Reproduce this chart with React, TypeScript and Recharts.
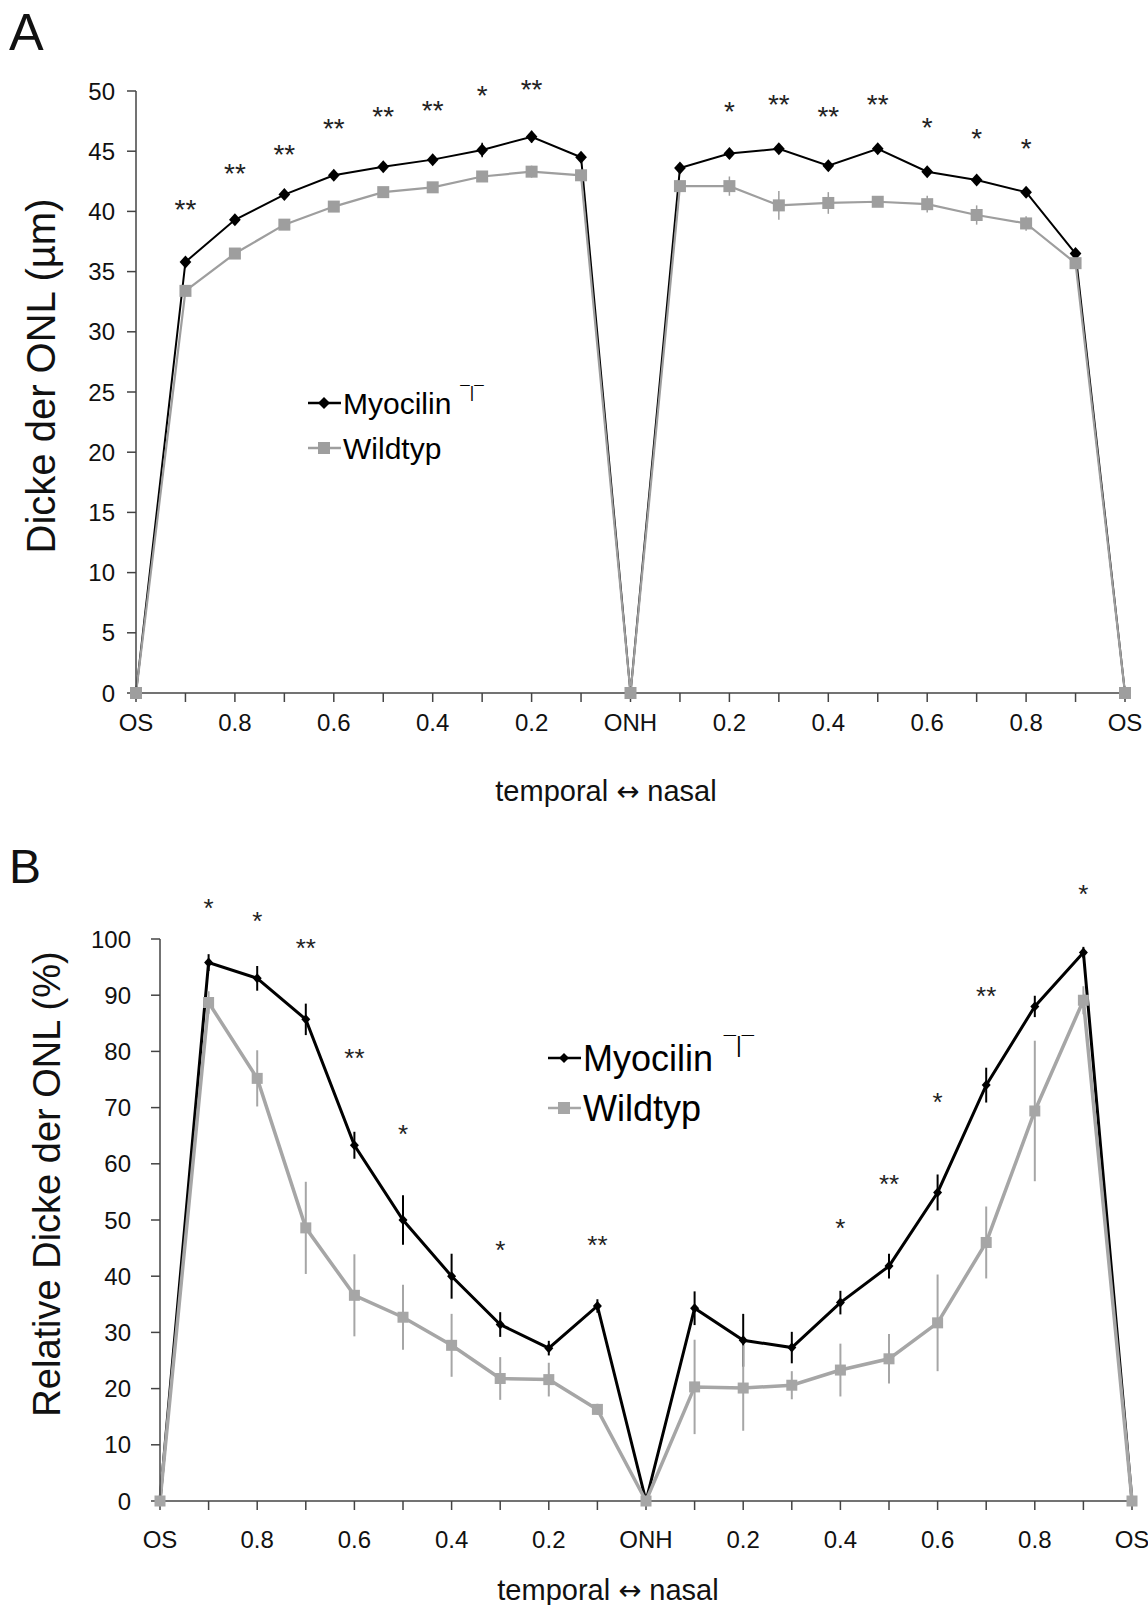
import React from "react";
import { ComposedChart, Line, XAxis, YAxis, ErrorBar, ReferenceDot } from "recharts";

// positions along the retina, temporal OS -> ONH -> nasal OS
const positions = ["OS", "0.9", "0.8", "0.7", "0.6", "0.5", "0.4", "0.3", "0.2", "0.1", "ONH", "0.1", "0.2", "0.3", "0.4", "0.5", "0.6", "0.7", "0.8", "0.9", "OS"];
const tickLabels = ["OS", "", "0.8", "", "0.6", "", "0.4", "", "0.2", "", "ONH", "", "0.2", "", "0.4", "", "0.6", "", "0.8", "", "OS"];

// A: absolute ONL thickness (µm)
const myoA = [0, 35.8, 39.3, 41.4, 43.0, 43.7, 44.3, 45.1, 46.2, 44.5, 0, 43.6, 44.8, 45.2, 43.8, 45.2, 43.3, 42.6, 41.6, 36.5, 0];
const myoAErr = [0, 0.3, 0.4, 0.3, 0.3, 0.3, 0.3, 0.6, 0.5, 0.3, 0, 0.3, 0.4, 0.3, 0.3, 0.4, 0.3, 0.3, 0.3, 0.3, 0];
const wtA = [0, 33.4, 36.5, 38.9, 40.4, 41.6, 42.0, 42.9, 43.3, 43.0, 0, 42.1, 42.1, 40.5, 40.7, 40.8, 40.6, 39.7, 39.0, 35.7, 0];
const wtAErr = [0, 0.3, 0.3, 0.4, 0.3, 0.3, 0.3, 0.3, 0.5, 0.3, 0, 0.3, 0.8, 1.2, 0.9, 0.4, 0.7, 0.8, 0.6, 0.3, 0];
const sigA = ["", "**", "**", "**", "**", "**", "**", "*", "**", "", "", "", "*", "**", "**", "**", "*", "*", "*", "", ""];
const sigAy = [0, 40.7, 43.7, 45.3, 47.4, 48.4, 48.9, 50.2, 50.7, 0, 0, 0, 48.8, 49.4, 48.4, 49.4, 47.5, 46.6, 45.8, 0, 0];

// B: relative ONL thickness (%)
const myoB = [0, 95.8, 93.0, 85.7, 63.3, 50.0, 40.0, 31.4, 27.2, 34.7, 0, 34.3, 28.6, 27.3, 35.3, 41.8, 54.9, 74.0, 88.0, 97.6, 0];
const myoBErr = [0, 1.5, 2.2, 2.8, 2.4, 4.4, 4.0, 2.2, 1.3, 1.2, 0, 3.0, 4.7, 2.8, 2.1, 2.2, 3.2, 3.1, 1.9, 1.0, 0];
const wtB = [0, 88.7, 75.2, 48.6, 36.6, 32.7, 27.7, 21.8, 21.6, 16.3, 0, 20.3, 20.1, 20.6, 23.3, 25.3, 31.7, 46.0, 69.4, 89.1, 0];
const wtBErr = [0, 2.0, 5.0, 8.2, 7.3, 5.8, 5.6, 3.8, 3.0, 1.0, 0, 8.4, 7.6, 2.5, 4.7, 4.4, 8.6, 6.4, 12.5, 2.5, 0];
const sigB = ["", "*", "*", "**", "**", "*", "", "*", "", "**", "", "", "", "", "*", "**", "*", "**", "", "*", ""];
const sigBy = [0, 106.6, 104.3, 99.5, 79.8, 66.4, 0, 45.7, 0, 46.6, 0, 0, 0, 0, 49.7, 57.4, 72.1, 90.9, 0, 109.0, 0];

const ticksA = [0, 5, 10, 15, 20, 25, 30, 35, 40, 45, 50];
const ticksB = [0, 10, 20, 30, 40, 50, 60, 70, 80, 90, 100];

const dataA = positions.map((p, i) => ({ x: i, pos: p, myo: myoA[i], myoErr: myoAErr[i], wt: wtA[i], wtErr: wtAErr[i] }));
const dataB = positions.map((p, i) => ({ x: i, pos: p, myo: myoB[i], myoErr: myoBErr[i], wt: wtB[i], wtErr: wtBErr[i] }));

const FONT = "'Liberation Sans', Arial, sans-serif";
const GREY_A = "#9e9e9e";
const GREY_B = "#a6a6a6";
const AXIS = "#444";

const diamond = (r: number, fill: string) => (props: any) => {
  const { cx, cy, index } = props;
  if (cx == null || cy == null) return <g key={`d${index}`} />;
  return <polygon key={`d${index}`} points={`${cx},${cy - r} ${cx + r * 0.9},${cy} ${cx},${cy + r} ${cx - r * 0.9},${cy}`} fill={fill} />;
};
const square = (s: number, fill: string) => (props: any) => {
  const { cx, cy, index } = props;
  if (cx == null || cy == null) return <g key={`s${index}`} />;
  return <rect key={`s${index}`} x={cx - s / 2} y={cy - s / 2} width={s} height={s} fill={fill} />;
};

const stars = (labels: string[], ys: number[], fs: number) =>
  labels.map((t, i) =>
    t ? (
      <ReferenceDot
        key={`star${i}`}
        x={i}
        y={ys[i]}
        ifOverflow="visible"
        shape={(p: any) => (
          <text x={p.cx} y={p.cy + fs * 0.57} textAnchor="middle" fontSize={fs} fontFamily={FONT} fill="#222">
            {t}
          </text>
        )}
      />
    ) : null
  );

const ChartA = () => (
  <ComposedChart width={1148} height={830} data={dataA} margin={{ top: 91, right: 23, bottom: 97, left: 76 }}>
    <XAxis
      type="number"
      dataKey="x"
      domain={[0, 20]}
      ticks={positions.map((_, i) => i)}
      interval={0}
      tickFormatter={(v: number) => tickLabels[v] ?? ""}
      height={40}
      tickSize={9}
      tickMargin={12}
      stroke={AXIS}
      strokeWidth={1.5}
      tick={{ fontSize: 24, fontFamily: FONT, fill: "#111" }}
    />
    <YAxis
      domain={[0, 50]}
      ticks={ticksA}
      width={60}
      tickSize={9}
      tickMargin={12}
      stroke={AXIS}
      strokeWidth={1.5}
      tick={{ fontSize: 24, fontFamily: FONT, fill: "#111" }}
    />
    <Line dataKey="myo" stroke="#000" strokeWidth={2} dot={diamond(6.5, "#000")} activeDot={false} isAnimationActive={false}>
      <ErrorBar dataKey="myoErr" width={0} stroke="#000" strokeWidth={1.5} direction="y" />
    </Line>
    <Line dataKey="wt" stroke={GREY_A} strokeWidth={2.2} dot={square(12, GREY_A)} activeDot={false} isAnimationActive={false}>
      <ErrorBar dataKey="wtErr" width={0} stroke={GREY_A} strokeWidth={1.5} direction="y" />
    </Line>
    {stars(sigA, sigAy, 28)}
  </ComposedChart>
);

const ChartB = () => (
  <ComposedChart width={1148} height={775} data={dataB} margin={{ top: 109, right: 16, bottom: 54, left: 90 }}>
    <XAxis
      type="number"
      dataKey="x"
      domain={[0, 20]}
      ticks={positions.map((_, i) => i)}
      interval={0}
      tickFormatter={(v: number) => tickLabels[v] ?? ""}
      height={50}
      tickSize={9}
      tickMargin={21}
      stroke={AXIS}
      strokeWidth={1.5}
      tick={{ fontSize: 24, fontFamily: FONT, fill: "#111" }}
    />
    <YAxis
      domain={[0, 100]}
      ticks={ticksB}
      width={70}
      tickSize={9}
      tickMargin={20}
      stroke={AXIS}
      strokeWidth={1.5}
      tick={{ fontSize: 24, fontFamily: FONT, fill: "#111" }}
    />
    <Line dataKey="myo" stroke="#000" strokeWidth={3} dot={diamond(5, "#000")} activeDot={false} isAnimationActive={false}>
      <ErrorBar dataKey="myoErr" width={0} stroke="#000" strokeWidth={2} direction="y" />
    </Line>
    <Line dataKey="wt" stroke={GREY_B} strokeWidth={3.5} dot={square(11, GREY_B)} activeDot={false} isAnimationActive={false}>
      <ErrorBar dataKey="wtErr" width={0} stroke={GREY_B} strokeWidth={2} direction="y" />
    </Line>
    {stars(sigB, sigBy, 26)}
  </ComposedChart>
);

const LegendRows = ({ x, y, gap, fs, supFs, grey, r, sq }: any) => (
  <g fontFamily={FONT}>
    <line x1={x} x2={x + 33} y1={y} y2={y} stroke="#000" strokeWidth={2.5} />
    <polygon points={`${x + 16},${y - r} ${x + 16 + r},${y} ${x + 16},${y + r} ${x + 16 - r},${y}`} fill="#000" />
    <text x={x + 35} y={y} dominantBaseline="central" fontSize={fs} fill="#000">
      Myocilin
      <tspan dx={fs * 0.3} dy={-fs * 0.38} fontSize={supFs}>¯|¯</tspan>
    </text>
    <line x1={x} x2={x + 33} y1={y + gap} y2={y + gap} stroke={grey} strokeWidth={2.5} />
    <rect x={x + 16 - sq / 2} y={y + gap - sq / 2} width={sq} height={sq} fill={grey} />
    <text x={x + 35} y={y + gap} dominantBaseline="central" fontSize={fs} fill="#000">
      Wildtyp
    </text>
  </g>
);

const AxisTitle = ({ x, y, fs }: any) => (
  <text x={x} y={y} fontSize={fs} textAnchor="middle" dominantBaseline="central">
    temporal <tspan fontFamily="'DejaVu Sans'" fontSize={fs * 0.95}>↔</tspan> nasal
  </text>
);

export default function App() {
  return (
    <div style={{ position: "absolute", left: 0, top: 0, width: 1148, height: 1605, background: "#fff", overflow: "hidden" }}>
      <div style={{ position: "absolute", left: 0, top: 0 }}>
        <ChartA />
      </div>
      <div style={{ position: "absolute", left: 0, top: 830 }}>
        <ChartB />
      </div>
      <svg width={1148} height={1605} style={{ position: "absolute", left: 0, top: 0, pointerEvents: "none" }}>
        <g fontFamily={FONT} fill="#111">
          <text x={9} y={50} fontSize={52}>A</text>
          <text x={9} y={883} fontSize={48}>B</text>
          <text x={41} y={376} fontSize={40} textAnchor="middle" dominantBaseline="central" transform="rotate(-90 41 376)">
            Dicke der ONL (µm)
          </text>
          <text x={47} y={1184} fontSize={38} textAnchor="middle" dominantBaseline="central" transform="rotate(-90 47 1184)">
            Relative Dicke der ONL (%)
          </text>
          <AxisTitle x={606} y={791} fs={29} />
          <AxisTitle x={608} y={1590} fs={29} />
        </g>
        <LegendRows x={308} y={403} gap={45} fs={30} supFs={17} grey={GREY_A} r={6} sq={12} />
        <LegendRows x={548} y={1058} gap={50} fs={36} supFs={22} grey={GREY_B} r={5} sq={12} />
      </svg>
    </div>
  );
}
